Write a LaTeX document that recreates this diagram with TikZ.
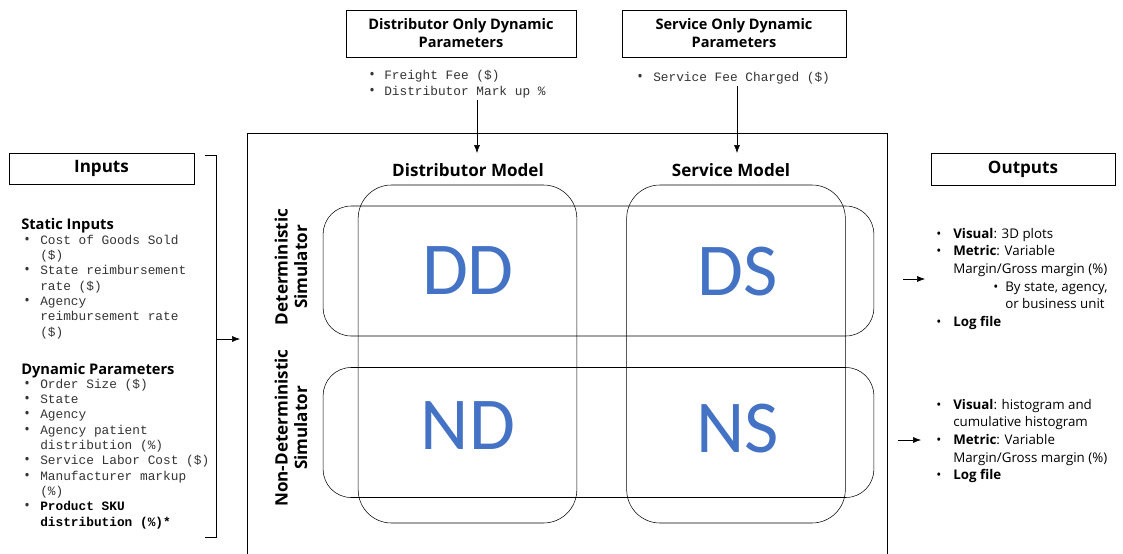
\documentclass[tikz,border=0pt]{standalone}
\usepackage{fontspec}
\setmainfont{Open Sans}
\setmonofont{Liberation Mono}
\newfontfamily\cellfont{Carlito}
\usetikzlibrary{arrows.meta}
\definecolor{cellblue}{HTML}{4472C4}
\definecolor{monogray}{HTML}{333333}
\newcommand{\bul}{{\rmfamily\fontsize{11}{11}\selectfont\textbullet}}
\tikzset{%
	title/.style    = {draw, semithick, rectangle, align=center, inner sep=0pt},
	head/.style     = {font=\bfseries\fontsize{12.8}{14.6}\selectfont},
	sub/.style      = {inner sep=0pt, anchor=base west, font=\bfseries\fontsize{11}{13}\selectfont}, % list titles
	param/.style    = {inner sep=0pt, anchor=base west, text=monogray, font=\ttfamily\fontsize{9.6}{11.5}\selectfont}, % mono lists
	result/.style   = {inner sep=0pt, anchor=base west, font=\fontsize{10}{13.3}\selectfont}, % output lists
	column/.style   = {draw, rectangle, rounded corners=25pt, minimum width=164pt, minimum height=253.5pt},
	row/.style      = {draw, rectangle, rounded corners=21pt, minimum width=413pt, minimum height=97.5pt},
	cell/.style     = {text=cellblue, font=\cellfont\fontsize{56}{60}\selectfont},
	link/.style     = {->, >={Latex[length=6pt,width=4.5pt]}}
}

\begin{document}
\begin{tikzpicture}[x=0.75pt, y=-0.75pt]
	\clip (0,0) rectangle (1123,553);

	\node[title, font=\bfseries\fontsize{10.9}{13.5}\selectfont, minimum width=172.5pt, minimum height=35.25pt] (dparams) at (461,33.5) {Distributor Only Dynamic\\Parameters};
	\node[title, font=\bfseries\fontsize{10.9}{13.5}\selectfont, minimum width=168pt, minimum height=35.25pt] (sparams) at (734,33.5) {Service Only Dynamic\\Parameters};
	\node[param, font=\ttfamily\fontsize{9.6}{12}\selectfont] (dlist) at (369,79) {\begin{tabular}[t]{@{}p{11.25pt}@{}l@{}}
		\bul & Freight Fee (\$)\\
		\bul & Distributor Mark up \%
	\end{tabular}};
	\node[param] (slist) at (637,81) {\begin{tabular}[t]{@{}p{12pt}@{}l@{}}
		\bul & Service Fee Charged (\$)
	\end{tabular}};

	% simulator box
	\coordinate (boxbl) at (247,560);
	\coordinate (boxtr) at (887,133);
	\draw[semithick] (boxbl) |- (boxtr) -- (boxtr |- boxbl);

	\node[head] (dmodel) at (468,170) {Distributor Model};
	\node[head] (smodel) at (731,170) {Service Model};
	\coordinate (dtip) at (477,153);
	\coordinate (stip) at (737,153);
	\draw[link] (dlist.south -| dtip) -- (dtip);
	\draw[link] (slist.south -| stip) -- (stip);

	\node[column] (dcol) at (467.5,354) {};
	\node[column] (scol) at (736,354) {};
	\node[row] (drow) at (598.5,271) {};
	\node[row] (nrow) at (598.5,432.5) {};

	\node[head, rotate=90, align=center] (dlabel) at (291,267) {Deterministic\\Simulator};
	\node[head, rotate=90, align=center] (nlabel) at (291,428) {Non-Deterministic\\Simulator};

	\node[cell] (dd) at (468,271) {DD};
	\node[cell] (ds) at (738,272) {DS};
	\node[cell] (nd) at (468,426) {ND};
	\node[cell] (ns) at (738,429) {NS};

	% inputs
	\node[title, head, minimum width=138.75pt, minimum height=23.25pt] (inputs) at (101.5,168.5) {\raisebox{-1pt}{Inputs}};
	\node[sub] (statichead) at (21,229) {Static Inputs};
	\node[param] (staticlist) at (24,244) {\begin{tabular}[t]{@{}p{12pt}@{}l@{}}
		\bul & Cost of Goods Sold\\
		     & (\$)\\
		\bul & State reimbursement\\
		     & rate (\$)\\
		\bul & Agency\\
		     & reimbursement rate\\
		     & (\$)
	\end{tabular}};
	\node[sub] (dynhead) at (21,374) {Dynamic Parameters};
	\node[param] (dynlist) at (24,388) {\begin{tabular}[t]{@{}p{12pt}@{}l@{}}
		\bul & Order Size (\$)\\
		\bul & State\\
		\bul & Agency\\
		\bul & Agency patient\\
		     & distribution (\%)\\
		\bul & Service Labor Cost (\$)\\
		\bul & Manufacturer markup\\
		     & (\%)\\
		\bul & \textbf{\color{black}Product SKU}\\
		     & \textbf{\color{black}distribution (\%)*}
	\end{tabular}};
	\coordinate (bracetop) at (205,155);
	\coordinate (bracebot) at (205,537);
	\coordinate (bracemid) at (216,339);
	\coordinate (intip) at (240,339);
	\draw (bracetop) -- ++(11,0) -- ++(0,382) -- (bracebot);
	\draw[link] (bracemid) -- (intip);

	% outputs
	\node[title, head, minimum width=138pt, minimum height=24pt] (outputs) at (1023,169) {\raisebox{-1pt}{Outputs}};
	\node[result] (detout) at (936,238) {\begin{tabular}[t]{@{}p{12.75pt}@{}l@{}}
		\textbullet & \textbf{Visual}: 3D plots\\
		\textbullet & \textbf{Metric}: Variable\\
		            & Margin/Gross margin (\%)\\
		            & \hspace{30pt}\makebox[9pt][l]{\textbullet}By state, agency,\\
		            & \hspace{39pt}or business unit\\
		\textbullet & \textbf{Log file}
	\end{tabular}};
	\node[result] (nonout) at (936,409) {\begin{tabular}[t]{@{}p{12.75pt}@{}l@{}}
		\textbullet & \textbf{Visual}: histogram and\\
		            & cumulative histogram\\
		\textbullet & \textbf{Metric}: Variable\\
		            & Margin/Gross margin (\%)\\
		\textbullet & \textbf{Log file}
	\end{tabular}};
	\coordinate (dout) at (903,279);
	\coordinate (nout) at (898,440);
	\draw[link] (dout) -- ++(22,0);
	\draw[link] (nout) -- ++(23,0);
\end{tikzpicture}
\end{document}
